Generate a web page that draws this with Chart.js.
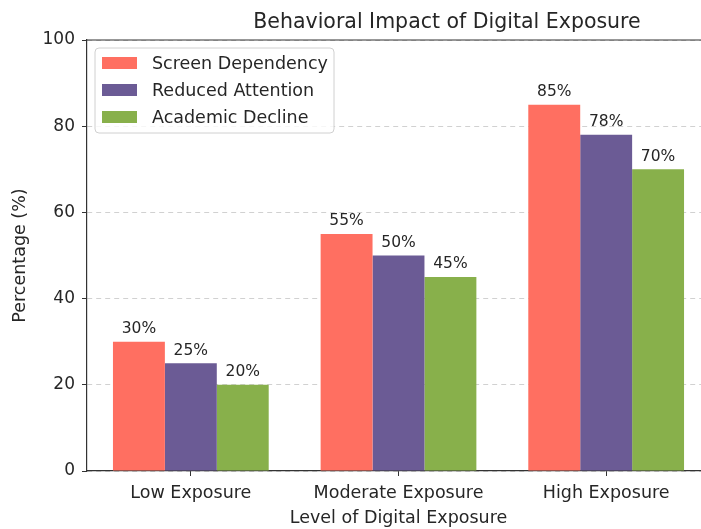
<!DOCTYPE html>
<html>
<head>
<meta charset="utf-8">
<script src="https://cdn.jsdelivr.net/npm/chart.js@4.4.0/dist/chart.umd.min.js"></script>
<style>
  html, body { margin: 0; padding: 0; overflow: hidden; background: #fff; }
  #chart { display: block; }
</style>
</head>
<body>
<canvas id="chart" width="742" height="529"></canvas>
<script>
const categories = ['Low Exposure', 'Moderate Exposure', 'High Exposure'];
const screenDependency = [30, 55, 85];
const reducedAttention = [25, 50, 78];
const academicDecline = [20, 45, 70];
const yTicks = [0, 20, 40, 60, 80, 100];

const FONT = '"DejaVu Sans", sans-serif';
const TEXT = '#262626';

// titre, cadre, étiquettes et légende dessinés à la main
const extras = {
    id: 'extras',
    afterDraw(chart) {
        const c = chart.ctx;
        const area = chart.chartArea;
        c.save();

        // cadre haut (le bord droit sort de la fenêtre)
        c.strokeStyle = '#333';
        c.lineWidth = 1.2;
        c.beginPath();
        c.moveTo(area.left, area.top);
        c.lineTo(area.right, area.top);
        c.lineTo(area.right, area.bottom);
        c.stroke();

        // titre
        c.fillStyle = TEXT;
        c.font = '20.5px ' + FONT;
        c.textAlign = 'center';
        c.textBaseline = 'alphabetic';
        c.fillText('Behavioral Impact of Digital Exposure', 447, 28);

        // valeurs au-dessus des barres
        c.font = '15.5px ' + FONT;
        c.textBaseline = 'bottom';
        chart.data.datasets.forEach((ds, i) => {
            chart.getDatasetMeta(i).data.forEach((bar, j) => {
                c.fillText(ds.data[j] + '%', bar.x, bar.y - 5);
            });
        });

        // légende
        const lx = area.left + 8, ly = area.top + 8;
        c.fillStyle = 'rgba(255,255,255,0.8)';
        c.strokeStyle = '#d0d0d0';
        c.lineWidth = 1;
        c.beginPath();
        c.roundRect(lx, ly, 239, 85, 4);
        c.fill();
        c.stroke();
        c.font = '17.5px ' + FONT;
        c.textAlign = 'left';
        c.textBaseline = 'middle';
        chart.data.datasets.forEach((ds, i) => {
            const y = ly + 15 + i * 27;
            c.fillStyle = ds.backgroundColor;
            c.fillRect(lx + 7, y - 6, 35, 12);
            c.fillStyle = TEXT;
            c.fillText(ds.label, lx + 57, y + 1);
        });
        c.restore();
    }
};

new Chart(document.getElementById('chart'), {
    type: 'bar',
    data: {
        labels: categories,
        datasets: [
            { label: 'Screen Dependency', data: screenDependency, backgroundColor: '#FF6F61' },
            { label: 'Reduced Attention', data: reducedAttention, backgroundColor: '#6B5B95' },
            { label: 'Academic Decline', data: academicDecline, backgroundColor: '#88B04B' }
        ]
    },
    options: {
        responsive: false,
        animation: false,
        devicePixelRatio: 1,
        layout: { padding: { top: 40, right: 32, left: 0, bottom: 0 } },
        datasets: { bar: { categoryPercentage: 0.75, barPercentage: 1.0 } },
        plugins: {
            legend: { display: false },
            title: { display: false },
            tooltip: { enabled: false }
        },
        scales: {
            x: {
                grid: { offset: false, drawOnChartArea: false, tickLength: 5, tickColor: '#333' },
                border: { color: '#333', width: 1.2 },
                ticks: { color: TEXT, font: { family: FONT, size: 17.5 }, padding: 7 },
                title: {
                    display: true, text: 'Level of Digital Exposure', color: TEXT,
                    font: { family: FONT, size: 17.5 }, padding: { top: 5, bottom: 0 }
                },
                afterFit(axis) { axis.height = 58; }
            },
            y: {
                min: 0,
                max: 100,
                afterBuildTicks(axis) { axis.ticks = yTicks.map(v => ({ value: v })); },
                grid: { color: 'rgba(0,0,0,0.18)', tickLength: 5, tickColor: '#333' },
                border: { color: '#333', width: 1.2, dash: [5, 4] },
                ticks: { color: TEXT, font: { family: FONT, size: 17 }, padding: 7 },
                title: {
                    display: true, text: 'Percentage (%)', color: TEXT,
                    font: { family: FONT, size: 17.5 }, padding: { top: 10, bottom: 4 }
                },
                afterFit(axis) { axis.width = 87; }
            }
        }
    },
    plugins: [extras]
});
</script>
</body>
</html>
